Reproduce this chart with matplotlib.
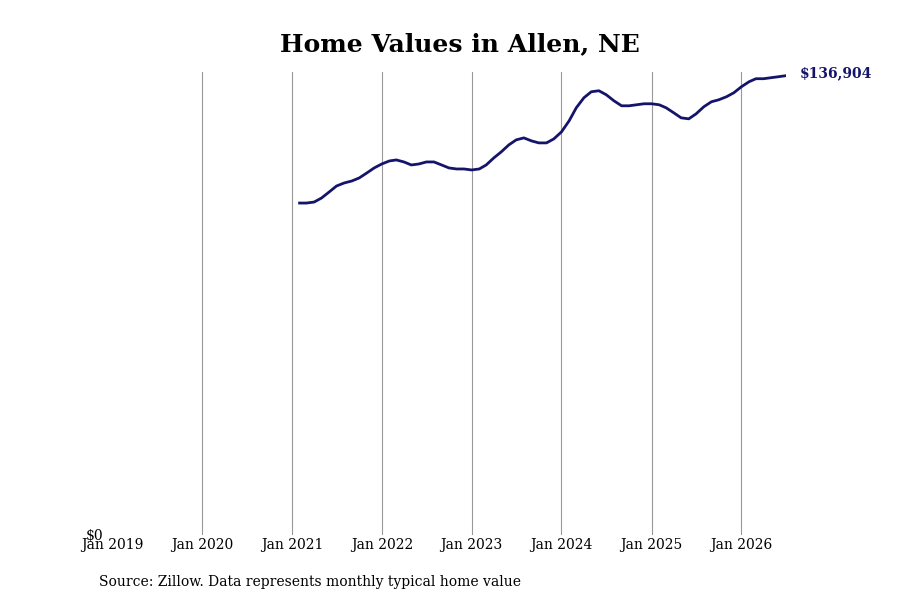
import matplotlib.pyplot as plt
import pandas as pd

# monthly typical home value, Feb 2021 - Jul 2026
dates = pd.date_range("2021-02-01", "2026-07-01", freq="MS")
values = [
    98940, 98940, 99240, 100430, 102230, 104020, 104920, 105510, 106410, 107900, 109400,
    110590, 111490, 111790, 111190, 110290, 110590, 111190, 111190, 110290, 109400, 109100, 109100,
    108800, 109100, 110290, 112390, 114180, 116270, 117770, 118360, 117470, 116870, 116870, 118070,
    120160, 123450, 127330, 130320, 132110, 132410, 131210, 129420, 127930, 127930, 128230, 128530,
    128530, 128230, 127330, 125840, 124340, 124040, 125540, 127630, 129130, 129720, 130620, 131810,
    133610, 135100, 136000, 136000, 136300, 136600, 136904,
]
year_ticks = pd.date_range("2019-01-01", "2026-01-01", freq="YS")
tick_labels = [f"Jan {d.year}" for d in year_ticks]

plt.rcParams["font.family"] = "DejaVu Serif"
fig = plt.figure(figsize=(9, 6), dpi=100)
ax = fig.add_axes([112 / 900, 65 / 600, (786 - 112) / 900, (535 - 72) / 600])

ax.plot(dates, values, color="#14146b", lw=2)
ax.set_xlim(year_ticks[0], dates[-1])
ax.set_ylim(0, 138000)
ax.set_xticks(year_ticks)
ax.set_xticklabels(tick_labels, fontsize=10)
ax.set_yticks([0])
ax.set_yticklabels(["$0"], fontsize=10)
ax.tick_params(length=0, pad=2)
ax.tick_params(axis="y", pad=6)
ax.grid(axis="x", color="#999999", lw=0.8)
ax.get_xgridlines()[0].set_visible(False)
for s in ax.spines.values():
    s.set_visible(False)

ax.annotate(f"${values[-1]:,}", (dates[-1], values[-1]), xytext=(10, 2),
            textcoords="offset points", va="center", fontsize=10,
            fontweight="bold", color="#14146b")
fig.text(0.511, 0.927, "Home Values in Allen, NE", ha="center", va="center",
         fontsize=18, fontweight="bold")
fig.text(99 / 900, 1 - 582 / 600, "Source: Zillow. Data represents monthly typical home value",
         ha="left", va="center", fontsize=10)

fig.savefig("out.png")
